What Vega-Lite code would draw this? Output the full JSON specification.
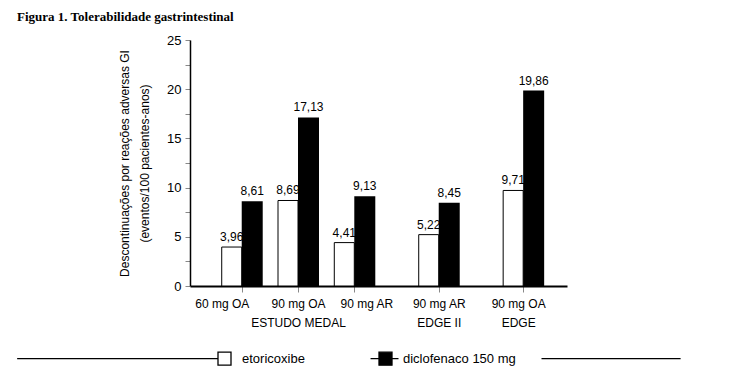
{
  "$schema": "https://vega.github.io/schema/vega-lite/v6.json",
  "width": 377,
  "height": 246,
  "autosize": {"type": "none"},
  "padding": {"left": 190, "top": 40, "right": 166, "bottom": 88},
  "background": "white",
  "config": {
    "view": {"stroke": null},
    "font": "Liberation Sans",
    "locale": {"number": {"decimal": ",", "thousands": ".", "grouping": [3], "currency": ["", ""]}},
    "legend": {
      "orient": "none",
      "legendX": 27,
      "legendY": 311,
      "direction": "horizontal",
      "title": null,
      "symbolSize": 169,
      "symbolStrokeColor": "black",
      "symbolStrokeWidth": 1.3,
      "labelFont": "Liberation Sans",
      "labelFontSize": 13,
      "labelColor": "black",
      "labelOffset": 10,
      "columnPadding": 62
    }
  },
  "title": {
    "text": "Figura 1. Tolerabilidade gastrintestinal",
    "anchor": "start",
    "frame": "group",
    "dx": -173,
    "offset": 10,
    "font": "Liberation Serif",
    "fontSize": 13,
    "fontWeight": "bold",
    "color": "black"
  },
  "data": {
    "values": [
      {"study": "ESTUDO MEDAL", "dose": "60 mg OA", "pos": 1, "series": "etoricoxibe", "value": 3.96},
      {"study": "ESTUDO MEDAL", "dose": "60 mg OA", "pos": 1, "series": "diclofenaco 150 mg", "value": 8.61},
      {"study": "ESTUDO MEDAL", "dose": "90 mg OA", "pos": 2, "series": "etoricoxibe", "value": 8.69},
      {"study": "ESTUDO MEDAL", "dose": "90 mg OA", "pos": 2, "series": "diclofenaco 150 mg", "value": 17.13},
      {"study": "ESTUDO MEDAL", "dose": "90 mg AR", "pos": 3, "series": "etoricoxibe", "value": 4.41},
      {"study": "ESTUDO MEDAL", "dose": "90 mg AR", "pos": 3, "series": "diclofenaco 150 mg", "value": 9.13},
      {"study": "EDGE II", "dose": "90 mg AR", "pos": 4.5, "series": "etoricoxibe", "value": 5.22},
      {"study": "EDGE II", "dose": "90 mg AR", "pos": 4.5, "series": "diclofenaco 150 mg", "value": 8.45},
      {"study": "EDGE", "dose": "90 mg OA", "pos": 6, "series": "etoricoxibe", "value": 9.71},
      {"study": "EDGE", "dose": "90 mg OA", "pos": 6, "series": "diclofenaco 150 mg", "value": 19.86}
    ]
  },
  "encoding": {
    "x": {
      "field": "pos",
      "type": "quantitative",
      "scale": {"domain": [0.17, 6.69], "nice": false, "zero": false},
      "axis": {
        "title": null,
        "values": [1, 2, 3, 4.5, 6],
        "labelExpr": "datum.value == 1 ? '60 mg OA' : datum.value == 2 ? ['90 mg OA', 'ESTUDO MEDAL'] : datum.value == 3 ? '90 mg AR' : datum.value == 4.5 ? ['90 mg AR', 'EDGE II'] : ['90 mg OA', 'EDGE']",
        "labelOffset": {"condition": [{"test": "datum.value == 1", "value": -20}, {"test": "datum.value == 3", "value": 12}, {"test": "datum.value == 6", "value": -5}], "value": 0},
        "labelFontSize": 12,
        "labelColor": "black",
        "labelLineHeight": 19,
        "labelPadding": 6,
        "labelFlush": false,
        "labelOverlap": false,
        "tickColor": "#888",
        "tickSize": 6,
        "domainColor": "black",
        "domainWidth": 2,
        "grid": false
      }
    },
    "y": {
      "field": "value",
      "type": "quantitative",
      "scale": {"domain": [0, 25], "nice": false},
      "axis": {
        "title": ["Descontinuações por reações adversas GI", "(eventos/100 pacientes-anos)"],
        "titleFontSize": 12,
        "titleFontWeight": "normal",
        "titleColor": "black",
        "titleLineHeight": 20,
        "titlePadding": 15,
        "values": [0, 2.5, 5, 7.5, 10, 12.5, 15, 17.5, 20, 22.5, 25],
        "labelExpr": "datum.value % 5 == 0 ? format(datum.value, 'd') : ''",
        "labelFontSize": 13,
        "labelColor": "black",
        "labelPadding": 4,
        "tickColor": "#888",
        "tickSize": 5,
        "domainColor": "black",
        "domainWidth": 1.5,
        "grid": false
      }
    }
  },
  "layer": [
    {
      "transform": [{"filter": "datum.series == 'etoricoxibe'"}],
      "mark": {"type": "bar", "width": 20, "xOffset": -10, "stroke": "black", "strokeWidth": 1},
      "encoding": {
        "fill": {
          "field": "series",
          "type": "nominal",
          "scale": {"domain": ["etoricoxibe", "diclofenaco 150 mg"], "range": ["white", "black"]},
          "legend": {
            "encode": {"symbols": {"update": {"shape": {"signal": "datum.value == 'etoricoxibe' ? 'M-31.9,0H-1M-1,-1H1V1H-1Z' : 'M-2.3,0H-1M-1,-1H1V1H-1ZM1,0H2M24,0H45.4'"}}}}
          }
        }
      }
    },
    {
      "transform": [{"filter": "datum.series != 'etoricoxibe'"}],
      "mark": {"type": "bar", "width": 21, "xOffset": 10.5, "stroke": "black", "strokeWidth": 0},
      "encoding": {
        "fill": {
          "field": "series",
          "type": "nominal",
          "scale": {"domain": ["etoricoxibe", "diclofenaco 150 mg"], "range": ["white", "black"]},
          "legend": {
            "encode": {"symbols": {"update": {"shape": {"signal": "datum.value == 'etoricoxibe' ? 'M-31.9,0H-1M-1,-1H1V1H-1Z' : 'M-2.3,0H-1M-1,-1H1V1H-1ZM1,0H2M24,0H45.4'"}}}}
          }
        }
      }
    },
    {
      "transform": [{"filter": "datum.series == 'etoricoxibe'"}],
      "mark": {"type": "text", "xOffset": -10, "dy": -3, "baseline": "bottom", "fontSize": 12, "color": "black"},
      "encoding": {"text": {"field": "value", "type": "quantitative", "format": ".2f"}}
    },
    {
      "transform": [{"filter": "datum.series != 'etoricoxibe'"}],
      "mark": {"type": "text", "xOffset": 10.5, "dy": -3, "baseline": "bottom", "fontSize": 12, "color": "black"},
      "encoding": {"text": {"field": "value", "type": "quantitative", "format": ".2f"}}
    }
  ]
}
